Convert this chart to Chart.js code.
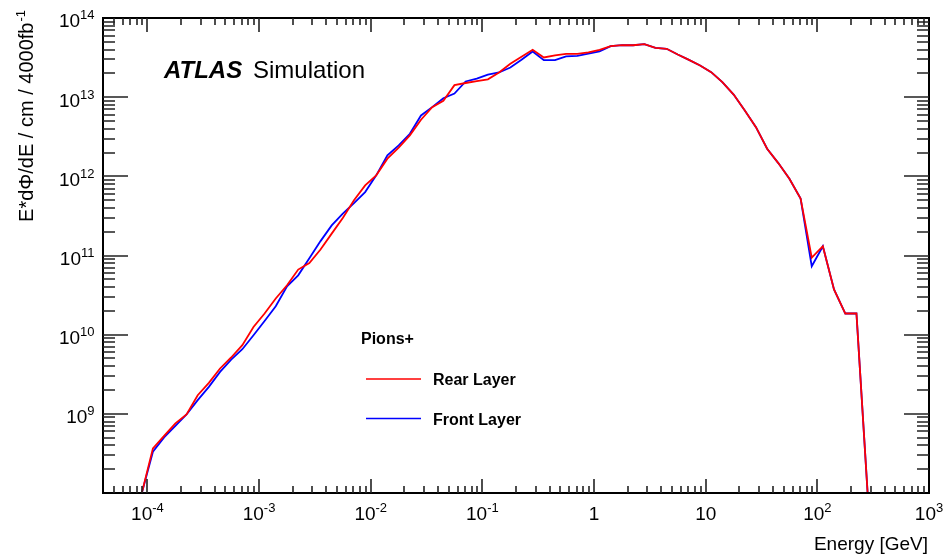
<!DOCTYPE html>
<html>
<head>
<meta charset="utf-8">
<script src="https://cdn.jsdelivr.net/npm/chart.js@4.4.1/dist/chart.umd.min.js"></script>
<style>
  html, body { margin: 0; padding: 0; background: #fff; }
  #wrap { width: 947px; height: 557px; }
</style>
</head>
<body>
<div id="wrap"><canvas id="pionChart" width="947" height="557"></canvas></div>
<script>
// Bin centres (GeV), 10 log bins per decade
const energyGeV = [
  8.91e-5, 1.12e-4, 1.41e-4, 1.78e-4, 2.24e-4, 2.82e-4, 3.55e-4, 4.47e-4, 5.62e-4, 7.08e-4,
  8.91e-4, 1.12e-3, 1.41e-3, 1.78e-3, 2.24e-3, 2.82e-3, 3.55e-3, 4.47e-3, 5.62e-3, 7.08e-3,
  8.91e-3, 1.12e-2, 1.41e-2, 1.78e-2, 2.24e-2, 2.82e-2, 3.55e-2, 4.47e-2, 5.62e-2, 7.08e-2,
  8.91e-2, 0.112, 0.141, 0.178, 0.224, 0.282, 0.355, 0.447, 0.562, 0.708,
  0.891, 1.12, 1.41, 1.78, 2.24, 2.82, 3.55, 4.47, 5.62, 7.08,
  8.91, 11.2, 14.1, 17.8, 22.4, 28.2, 35.5, 44.7, 56.2, 70.8,
  89.1, 112, 141, 178, 224, 282
];

const rearLayer = [
  1.0e8, 3.66e8, 5.28e8, 7.57e8, 9.82e8, 1.72e9, 2.46e9, 3.74e9, 5.15e9, 7.36e9,
  1.25e10, 1.85e10, 2.86e10, 4.21e10, 6.64e10, 8.04e10, 1.19e11, 1.89e11, 2.97e11, 4.98e11,
  7.69e11, 1.03e12, 1.67e12, 2.30e12, 3.29e12, 5.19e12, 7.48e12, 9.02e12, 1.42e13, 1.51e13,
  1.59e13, 1.68e13, 2.05e13, 2.64e13, 3.24e13, 3.96e13, 3.17e13, 3.38e13, 3.53e13, 3.53e13,
  3.68e13, 3.96e13, 4.41e13, 4.53e13, 4.53e13, 4.67e13, 4.20e13, 4.08e13, 3.46e13, 2.96e13,
  2.51e13, 2.07e13, 1.55e13, 1.08e13, 6.79e12, 4.18e12, 2.23e12, 1.47e12, 9.33e11, 5.25e11,
  9.40e10, 1.31e11, 3.72e10, 1.85e10, 1.85e10, 1.0e8
];

const frontLayer = [
  1.0e8, 3.32e8, 5.04e8, 7.06e8, 9.82e8, 1.49e9, 2.19e9, 3.39e9, 4.85e9, 6.55e9,
  9.84e9, 1.49e10, 2.29e10, 4.08e10, 5.62e10, 9.23e10, 1.52e11, 2.40e11, 3.38e11, 4.59e11,
  6.32e11, 1.03e12, 1.84e12, 2.46e12, 3.45e12, 5.87e12, 7.48e12, 9.68e12, 1.11e13, 1.58e13,
  1.72e13, 1.92e13, 2.05e13, 2.37e13, 2.97e13, 3.78e13, 2.93e13, 2.93e13, 3.28e13, 3.33e13,
  3.56e13, 3.80e13, 4.41e13, 4.53e13, 4.53e13, 4.67e13, 4.20e13, 4.08e13, 3.46e13, 2.96e13,
  2.51e13, 2.07e13, 1.55e13, 1.08e13, 6.79e12, 4.18e12, 2.23e12, 1.47e12, 9.33e11, 5.25e11,
  7.31e10, 1.31e11, 3.72e10, 1.85e10, 1.85e10, 1.0e8
];

const seriesNames = ['Rear Layer', 'Front Layer'];
const seriesColors = ['#ff0000', '#0000ff'];

// Axis range and labelled ticks
const xRange = [4e-5, 1e3];
const yRange = [1e8, 1e14];
const xLabelValues = [1e-4, 1e-3, 1e-2, 1e-1, 1, 10, 100, 1000];
const xLabelBase = ['10', '10', '10', '10', '1', '10', '10', '10'];
const xLabelExp = ['-4', '-3', '-2', '-1', '', '', '2', '3'];
const yLabelValues = [1e9, 1e10, 1e11, 1e12, 1e13, 1e14];
const yLabelExp = ['9', '10', '11', '12', '13', '14'];

const FONT = "'Liberation Sans', Arial, Helvetica, sans-serif";

function drawPower(ctx, base, exp, x, y, align, baseSize, expSize, rise) {
  ctx.font = baseSize + 'px ' + FONT;
  const wb = ctx.measureText(base).width;
  ctx.font = expSize + 'px ' + FONT;
  const we = exp ? ctx.measureText(exp).width : 0;
  const total = wb + we;
  let left = x;
  if (align === 'center') left = x - total / 2;
  if (align === 'right') left = x - total;
  ctx.textAlign = 'left';
  ctx.textBaseline = 'alphabetic';
  ctx.font = baseSize + 'px ' + FONT;
  ctx.fillText(base, left, y);
  if (exp) {
    ctx.font = expSize + 'px ' + FONT;
    ctx.fillText(exp, left + wb, y - rise);
  }
}

// ROOT-like frame: inward ticks on all four sides, labels, titles, legend
const rootFrame = {
  id: 'rootFrame',
  afterDatasetsDraw(chart) {
    const { ctx, chartArea: a, scales } = chart;
    const xs = scales.x, ys = scales.y;
    ctx.save();

    ctx.strokeStyle = '#000';
    ctx.lineWidth = 2;
    ctx.strokeRect(a.left, a.top, a.right - a.left, a.bottom - a.top);

    ctx.strokeStyle = '#222';
    ctx.lineWidth = 1.6;
    ctx.beginPath();
    for (let e = -5; e <= 3; e++) {
      for (let m = 1; m <= 9; m++) {
        const v = m * Math.pow(10, e);
        if (v <= xRange[0] || v >= xRange[1]) continue;
        const px = Math.round(xs.getPixelForValue(v));
        const len = m === 1 ? 14 : 7;
        ctx.moveTo(px, a.bottom); ctx.lineTo(px, a.bottom - len);
        ctx.moveTo(px, a.top); ctx.lineTo(px, a.top + len);
      }
    }
    for (let e = 8; e <= 14; e++) {
      for (let m = 1; m <= 9; m++) {
        const v = m * Math.pow(10, e);
        if (v <= yRange[0] || v >= yRange[1]) continue;
        const py = Math.round(ys.getPixelForValue(v));
        const len = m === 1 ? 25 : 12;
        ctx.moveTo(a.left, py); ctx.lineTo(a.left + len, py);
        ctx.moveTo(a.right, py); ctx.lineTo(a.right - len, py);
      }
    }
    ctx.stroke();

    ctx.fillStyle = '#000';
    xLabelValues.forEach((v, i) => {
      const px = xs.getPixelForValue(v);
      drawPower(ctx, xLabelBase[i], xLabelExp[i], px, a.bottom + 27, 'center', 19, 13, 8.5);
    });
    yLabelValues.forEach((v, i) => {
      const py = ys.getPixelForValue(v);
      drawPower(ctx, '10', yLabelExp[i], 94.5, py + 9.4, 'right', 19, 13, 8);
    });

    // x title
    ctx.font = '19px ' + FONT;
    ctx.textAlign = 'right';
    ctx.textBaseline = 'alphabetic';
    ctx.fillText('Energy [GeV]', 928, 550);

    // y title (rotated)
    ctx.save();
    ctx.translate(33, 10);
    ctx.rotate(-Math.PI / 2);
    const yTitle = 'E*d\u03A6/dE / cm / 4000fb';
    const yExp = '-1';
    ctx.font = '13px ' + FONT;
    const wExp = ctx.measureText(yExp).width;
    ctx.font = '20px ' + FONT;
    const wMain = ctx.measureText(yTitle).width;
    ctx.textAlign = 'left';
    ctx.fillText(yTitle, -(wMain + wExp + 1), 0);
    ctx.font = '13px ' + FONT;
    ctx.fillText(yExp, -wExp, -8);
    ctx.restore();

    // ATLAS Simulation
    ctx.textAlign = 'left';
    ctx.font = 'italic bold 24px ' + FONT;
    ctx.fillText('ATLAS', 164, 78);
    ctx.font = '24px ' + FONT;
    ctx.fillText('Simulation', 253, 78);

    // legend
    ctx.font = 'bold 16px ' + FONT;
    ctx.fillText('Pions+', 361, 344);
    const legendY = [379, 418.5];
    seriesNames.forEach((name, i) => {
      ctx.strokeStyle = seriesColors[i];
      ctx.lineWidth = 1.5;
      ctx.beginPath();
      ctx.moveTo(366, legendY[i]);
      ctx.lineTo(421, legendY[i]);
      ctx.stroke();
      ctx.fillStyle = '#000';
      ctx.font = 'bold 16px ' + FONT;
      ctx.fillText(name, 433, legendY[i] + 6);
    });

    ctx.restore();
  }
};

function toPoints(values) {
  return values.map((v, i) => ({ x: energyGeV[i], y: v }));
}

const chart = new Chart(document.getElementById('pionChart'), {
  type: 'line',
  data: {
    datasets: [
      {
        label: seriesNames[0],
        data: toPoints(rearLayer),
        borderColor: seriesColors[0],
        borderWidth: 1.8,
        pointRadius: 0,
        tension: 0,
        fill: false
      },
      {
        label: seriesNames[1],
        data: toPoints(frontLayer),
        borderColor: seriesColors[1],
        borderWidth: 1.8,
        pointRadius: 0,
        tension: 0,
        fill: false
      }
    ]
  },
  options: {
    responsive: false,
    animation: false,
    devicePixelRatio: 1,
    layout: { padding: { left: 103, right: 18, top: 18, bottom: 64 } },
    plugins: {
      legend: { display: false },
      tooltip: { enabled: false }
    },
    scales: {
      x: { type: 'logarithmic', min: xRange[0], max: xRange[1], display: false },
      y: { type: 'logarithmic', min: yRange[0], max: yRange[1], display: false }
    }
  },
  plugins: [rootFrame]
});
</script>
</body>
</html>
